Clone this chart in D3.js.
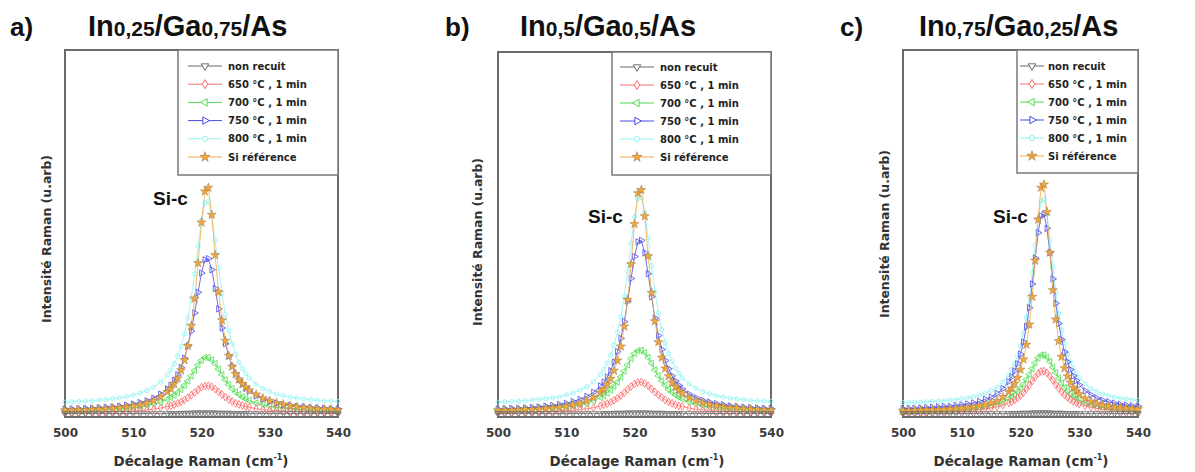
<!DOCTYPE html>
<html><head><meta charset="utf-8">
<script src="https://cdn.jsdelivr.net/npm/d3@7"></script>
<style>body{margin:0;background:#fff}svg{display:block}</style>
</head><body>
<svg id="chart" width="1195" height="472"></svg>
<script>
// ---------- DATA ----------
const seriesNames = ["non recuit", "650 °C , 1 min", "700 °C , 1 min", "750 °C , 1 min", "800 °C , 1 min", "Si référence"];
const xTicks = [500, 510, 520, 530, 540];
const panelLetters = ["a)", "b)", "c)"];
const panelTitles = [
  [["In", 0], ["0,25", 1], ["/Ga", 0], ["0,75", 1], ["/As", 0]],
  [["In", 0], ["0,5", 1], ["/Ga", 0], ["0,5", 1], ["/As", 0]],
  [["In", 0], ["0,75", 1], ["/Ga", 0], ["0,25", 1], ["/As", 0]]
];
const peakLabel = "Si-c";

const xAB = [500,501,502,503,504,505,506,507,508,509,510,511,512,513,514,515,
  515.5,516,516.5,517,517.5,518,518.5,519,519.5,520,520.5,521,521.5,522,522.5,523,523.5,524,524.5,525,525.5,526,526.5,527,
  528,529,530,531,532,533,534,535,536,537,538,539,540];
const xC = [500,501,502,503,504,505,506,507,508,509,510,511,512,513,514,515,516,517,518,
  518.5,519,519.5,520,520.5,521,521.5,522,522.5,523,523.5,524,524.5,525,525.5,526,526.5,527,527.5,528,528.5,529,529.5,530,
  531,532,533,534,535,536,537,538,539,540];

// panel a
const a_nr = [0.004,0.004,0.004,0.004,0.004,0.004,0.004,0.004,0.004,0.004,0.004,0.004,0.004,0.004,0.004,0.004,
  0.004,0.004,0.004,0.005,0.005,0.005,0.005,0.006,0.006,0.006,0.006,0.006,0.006,0.006,0.005,0.005,0.005,0.005,0.004,0.004,0.004,0.004,0.004,0.004,
  0.004,0.004,0.004,0.004,0.004,0.004,0.004,0.004,0.004,0.004,0.004,0.004,0.004];
const a_650 = [0.007,0.007,0.007,0.007,0.008,0.008,0.008,0.009,0.009,0.010,0.011,0.012,0.014,0.016,0.019,0.023,
  0.025,0.028,0.032,0.036,0.041,0.047,0.054,0.062,0.069,0.076,0.079,0.080,0.077,0.071,0.063,0.056,0.049,0.042,0.037,0.032,0.029,0.026,0.023,0.021,
  0.017,0.015,0.013,0.012,0.011,0.010,0.009,0.009,0.008,0.008,0.008,0.007,0.007];
const a_700 = [0.012,0.012,0.012,0.013,0.013,0.014,0.015,0.016,0.017,0.018,0.020,0.022,0.026,0.030,0.035,0.043,
  0.048,0.054,0.061,0.070,0.081,0.093,0.107,0.122,0.137,0.149,0.157,0.157,0.151,0.140,0.125,0.110,0.096,0.083,0.072,0.063,0.056,0.049,0.044,0.040,
  0.033,0.028,0.024,0.021,0.019,0.018,0.016,0.015,0.014,0.014,0.013,0.013,0.012];
const a_750 = [0.016,0.016,0.017,0.018,0.018,0.020,0.021,0.022,0.024,0.027,0.030,0.034,0.039,0.046,0.057,0.071,
  0.081,0.094,0.110,0.130,0.155,0.188,0.229,0.279,0.335,0.388,0.424,0.427,0.397,0.346,0.290,0.238,0.195,0.161,0.134,0.113,0.097,0.084,0.073,0.065,
  0.052,0.043,0.037,0.032,0.028,0.026,0.023,0.022,0.020,0.019,0.018,0.017,0.016];
const a_800 = [0.035,0.036,0.037,0.038,0.039,0.041,0.042,0.045,0.047,0.050,0.054,0.060,0.067,0.076,0.090,0.110,
  0.123,0.140,0.161,0.188,0.222,0.265,0.320,0.386,0.461,0.532,0.580,0.584,0.544,0.476,0.401,0.332,0.275,0.230,0.194,0.166,0.144,0.127,0.113,0.101,
  0.084,0.072,0.064,0.057,0.053,0.049,0.046,0.044,0.042,0.040,0.039,0.038,0.037];
const a_si = [0.013,0.013,0.014,0.014,0.015,0.016,0.017,0.018,0.020,0.022,0.025,0.028,0.033,0.039,0.049,0.063,
  0.072,0.085,0.100,0.122,0.150,0.189,0.244,0.318,0.415,0.526,0.611,0.621,0.547,0.437,0.336,0.259,0.203,0.162,0.132,0.112,0.097,0.085,0.076,0.068,
  0.056,0.046,0.039,0.033,0.029,0.025,0.022,0.020,0.018,0.017,0.016,0.015,0.014];

// panel b
const b_nr = [0.004,0.004,0.004,0.004,0.004,0.004,0.004,0.004,0.004,0.004,0.004,0.004,0.004,0.004,0.004,0.004,
  0.004,0.004,0.004,0.005,0.005,0.005,0.005,0.006,0.006,0.006,0.006,0.006,0.006,0.006,0.005,0.005,0.005,0.005,0.004,0.004,0.004,0.004,0.004,0.004,
  0.004,0.004,0.004,0.004,0.004,0.004,0.004,0.004,0.004,0.004,0.004,0.004,0.004];
const b_650 = [0.007,0.007,0.007,0.008,0.008,0.008,0.009,0.009,0.010,0.011,0.012,0.013,0.015,0.017,0.020,0.025,
  0.028,0.031,0.035,0.040,0.046,0.053,0.061,0.070,0.078,0.085,0.089,0.090,0.086,0.080,0.071,0.063,0.055,0.048,0.041,0.036,0.032,0.028,0.025,0.023,
  0.019,0.016,0.014,0.013,0.011,0.010,0.010,0.009,0.009,0.008,0.008,0.008,0.007];
const b_700 = [0.012,0.012,0.013,0.013,0.014,0.015,0.016,0.017,0.018,0.020,0.022,0.024,0.028,0.032,0.039,0.048,
  0.053,0.060,0.069,0.079,0.090,0.104,0.120,0.137,0.154,0.168,0.176,0.177,0.170,0.157,0.141,0.123,0.107,0.093,0.081,0.070,0.062,0.055,0.049,0.044,
  0.036,0.030,0.026,0.023,0.021,0.019,0.017,0.016,0.015,0.014,0.014,0.013,0.013];
const b_750 = [0.016,0.017,0.018,0.018,0.019,0.021,0.022,0.024,0.026,0.029,0.032,0.037,0.043,0.051,0.062,0.079,
  0.090,0.104,0.121,0.144,0.173,0.209,0.255,0.311,0.373,0.433,0.473,0.477,0.443,0.386,0.323,0.265,0.217,0.179,0.149,0.126,0.107,0.093,0.081,0.071,
  0.057,0.047,0.040,0.035,0.031,0.028,0.025,0.023,0.021,0.020,0.019,0.018,0.017];
const b_800 = [0.035,0.036,0.037,0.038,0.039,0.041,0.043,0.045,0.047,0.050,0.055,0.060,0.068,0.077,0.091,0.111,
  0.125,0.142,0.164,0.191,0.225,0.269,0.325,0.392,0.469,0.541,0.590,0.594,0.553,0.484,0.408,0.337,0.279,0.233,0.197,0.168,0.146,0.128,0.114,0.102,
  0.085,0.073,0.064,0.058,0.053,0.049,0.046,0.044,0.042,0.040,0.039,0.038,0.037];
const b_si = [0.013,0.013,0.013,0.014,0.015,0.015,0.016,0.018,0.019,0.021,0.024,0.028,0.032,0.039,0.048,0.062,
  0.071,0.084,0.099,0.121,0.149,0.187,0.242,0.315,0.412,0.522,0.606,0.615,0.543,0.434,0.334,0.256,0.199,0.157,0.127,0.106,0.089,0.077,0.067,0.059,
  0.047,0.039,0.033,0.029,0.025,0.022,0.020,0.019,0.017,0.016,0.015,0.014,0.013];

// panel c
const c_nr = [0.004,0.004,0.004,0.004,0.004,0.004,0.004,0.004,0.004,0.004,0.004,0.004,0.004,0.004,0.004,0.004,0.004,0.004,0.004,
  0.004,0.004,0.004,0.005,0.005,0.005,0.005,0.006,0.006,0.006,0.006,0.006,0.006,0.006,0.005,0.005,0.005,0.005,0.004,0.004,0.004,0.004,0.004,0.004,
  0.004,0.004,0.004,0.004,0.004,0.004,0.004,0.004,0.004,0.004];
const c_650 = [0.008,0.008,0.008,0.009,0.009,0.009,0.010,0.010,0.011,0.011,0.012,0.013,0.014,0.015,0.017,0.019,0.022,0.027,0.033,
  0.036,0.041,0.047,0.053,0.061,0.071,0.081,0.093,0.104,0.113,0.119,0.120,0.115,0.106,0.095,0.083,0.073,0.063,0.055,0.048,0.042,0.037,0.033,0.030,
  0.025,0.021,0.018,0.016,0.015,0.013,0.012,0.012,0.011,0.010];
const c_700 = [0.011,0.011,0.011,0.012,0.012,0.012,0.013,0.013,0.014,0.015,0.016,0.017,0.018,0.020,0.022,0.026,0.030,0.035,0.044,
  0.050,0.056,0.064,0.073,0.084,0.097,0.111,0.127,0.143,0.156,0.164,0.164,0.158,0.146,0.130,0.115,0.100,0.087,0.075,0.066,0.058,0.051,0.046,0.041,
  0.033,0.028,0.024,0.021,0.019,0.018,0.016,0.015,0.014,0.014];
const c_750 = [0.017,0.018,0.018,0.019,0.020,0.021,0.022,0.023,0.024,0.026,0.028,0.030,0.033,0.037,0.043,0.049,0.059,0.072,0.091,
  0.104,0.120,0.140,0.166,0.199,0.241,0.293,0.358,0.429,0.498,0.544,0.548,0.510,0.444,0.372,0.305,0.250,0.206,0.172,0.145,0.124,0.107,0.094,0.082,
  0.066,0.055,0.046,0.040,0.036,0.032,0.029,0.027,0.025,0.024];
const c_800 = [0.034,0.034,0.035,0.035,0.036,0.037,0.038,0.039,0.041,0.042,0.045,0.047,0.050,0.054,0.060,0.067,0.076,0.090,0.110,
  0.124,0.141,0.162,0.189,0.224,0.267,0.323,0.389,0.465,0.537,0.585,0.589,0.549,0.480,0.404,0.335,0.277,0.232,0.195,0.167,0.145,0.128,0.114,0.102,
  0.085,0.072,0.064,0.057,0.053,0.049,0.046,0.044,0.042,0.040];
const c_si = [0.012,0.012,0.012,0.013,0.013,0.014,0.014,0.015,0.016,0.017,0.018,0.020,0.022,0.025,0.028,0.033,0.039,0.049,0.063,
  0.073,0.086,0.102,0.124,0.152,0.192,0.247,0.323,0.422,0.534,0.621,0.630,0.555,0.444,0.341,0.261,0.202,0.159,0.128,0.106,0.089,0.075,0.065,0.057,
  0.045,0.037,0.031,0.027,0.024,0.021,0.020,0.018,0.017,0.016];

// ---------- LAYOUT & STYLE ----------
const layout = [
  {x: xAB, series: [a_nr,a_650,a_700,a_750,a_800,a_si], frame:[65,50,338,417],
   leg:{box:[178,50,338,175], l0:188, l1:222, tx:228, y0:66, dy:18.2},
   letterX:10, titleX:88, ylab:[47,239], sic:[153,205], xtitle:201},
  {x: xAB, series: [b_nr,b_650,b_700,b_750,b_800,b_si], frame:[498,52,771,417],
   leg:{box:[612,52,771,175], l0:620, l1:654, tx:660, y0:67, dy:18},
   letterX:445, titleX:520, ylab:[478,242], sic:[588,223], xtitle:637},
  {x: xC, series: [c_nr,c_650,c_700,c_750,c_800,c_si], frame:[903,50,1138,417],
   leg:{box:[1017,50,1138,173], l0:1020, l1:1044, tx:1048, y0:66, dy:18},
   letterX:840, titleX:919, ylab:[885,234], sic:[993,223], xtitle:1021}
];
const styles = [
  {color:"#6a6a6a", sym:d3.symbolTriangle, rot:180, fill:"none", size:18},
  {color:"#ff6b6b", sym:d3.symbolDiamond, rot:0, fill:"none", size:18},
  {color:"#4ddc4d", sym:d3.symbolTriangle, rot:-90, fill:"none", size:18},
  {color:"#4a4ae8", sym:d3.symbolTriangle, rot:90, fill:"none", size:18},
  {color:"#8ef3f3", sym:d3.symbolCircle, rot:0, fill:"none", size:14},
  {color:"#f2aa40", sym:d3.symbolStar, rot:0, fill:"#f3a83a", size:26, stroke:"#9a7a50"}
];
const drawOrder = [4,2,1,3,5,0];
const ARIAL = "'Liberation Sans', Arial, sans-serif";
const DEJAVU = "'DejaVu Sans', sans-serif";

const svg = d3.select("#chart");

layout.forEach((p, pi) => {
  const [fx0, fy0, fx1, fy1] = p.frame;
  const x = d3.scaleLinear().domain([500, 540]).range([fx0, fx1]);
  const y = d3.scaleLinear().domain([0, 1]).range([415, 49]);
  const g = svg.append("g");

  // letter + title
  g.append("text").attr("x", p.letterX).attr("y", 36)
    .attr("font-family", ARIAL).attr("font-weight", "bold").attr("font-size", 26)
    .attr("fill", "#111").text(panelLetters[pi]);
  const t = g.append("text").attr("x", p.titleX).attr("y", 36)
    .attr("font-family", ARIAL).attr("font-weight", "bold").attr("fill", "#111");
  panelTitles[pi].forEach(([s, sub]) => {
    t.append("tspan").attr("font-size", sub ? 21 : 29).text(s);
  });

  // frame
  g.append("rect").attr("x", fx0).attr("y", fy0).attr("width", fx1 - fx0).attr("height", fy1 - fy0)
    .attr("fill", "none").attr("stroke", "#6a6a6a").attr("stroke-width", 2);

  // series
  drawOrder.forEach(si => {
    const st = styles[si];
    const pts = p.series[si].map((v, i) => [p.x[i], v]);
    g.append("path").datum(pts)
      .attr("fill", "none").attr("stroke", st.color).attr("stroke-width", 0.8)
      .attr("d", d3.line().x(d => x(d[0])).y(d => y(d[1])));
    g.selectAll(null).data(pts).join("path")
      .attr("transform", d => `translate(${x(d[0])},${y(d[1])}) rotate(${st.rot})`)
      .attr("d", d3.symbol(st.sym, st.size))
      .attr("fill", st.fill).attr("stroke", st.stroke || st.color).attr("stroke-width", st.stroke ? 0.5 : 0.8);
  });

  // x axis tick labels
  const ax = g.append("g").attr("transform", `translate(0,${fy1})`)
    .call(d3.axisBottom(x).tickValues(xTicks).tickSize(0).tickPadding(11).tickFormat(d3.format("d")));
  ax.select(".domain").remove();
  ax.selectAll("text").attr("font-family", DEJAVU).attr("font-weight", "bold")
    .attr("font-size", 12).attr("fill", "#3a3a3a");

  // x title
  const xt = g.append("text").attr("x", p.xtitle).attr("y", 466).attr("text-anchor", "middle")
    .attr("font-family", DEJAVU).attr("font-weight", "bold").attr("font-size", 13.5).attr("fill", "#333");
  xt.append("tspan").text("Décalage Raman (cm");
  xt.append("tspan").attr("font-size", 8).attr("dy", -6).text("-1");
  xt.append("tspan").attr("dy", 6).text(")");

  // y title
  g.append("text").attr("transform", `translate(${p.ylab[0] + 4},${p.ylab[1]}) rotate(-90)`)
    .attr("text-anchor", "middle").attr("font-family", DEJAVU).attr("font-weight", "bold")
    .attr("font-size", 12).attr("fill", "#333")
    .attr("textLength", 168).attr("lengthAdjust", "spacingAndGlyphs")
    .text("Intensité Raman (u.arb)");

  // Si-c label
  g.append("text").attr("x", p.sic[0]).attr("y", p.sic[1])
    .attr("font-family", ARIAL).attr("font-weight", "bold").attr("font-size", 19)
    .attr("fill", "#111").text(peakLabel);

  // legend
  const L = p.leg;
  g.append("rect").attr("x", L.box[0]).attr("y", L.box[1])
    .attr("width", L.box[2] - L.box[0]).attr("height", L.box[3] - L.box[1])
    .attr("fill", "#fff").attr("stroke", "#7a7a7a").attr("stroke-width", 1.5);
  seriesNames.forEach((name, i) => {
    const st = styles[i];
    const ry = L.y0 + i * L.dy;
    g.append("line").attr("x1", L.l0).attr("x2", L.l1).attr("y1", ry).attr("y2", ry)
      .attr("stroke", st.color).attr("stroke-width", 1);
    g.append("path").attr("transform", `translate(${(L.l0 + L.l1) / 2},${ry}) rotate(${st.rot})`)
      .attr("d", d3.symbol(st.sym, st.size + 6))
      .attr("fill", st.fill === "none" ? "#fff" : st.fill)
      .attr("stroke", st.stroke || st.color).attr("stroke-width", st.stroke ? 0.6 : 1);
    g.append("text").attr("x", L.tx).attr("y", ry + 3.5)
      .attr("font-family", DEJAVU).attr("font-weight", "bold").attr("font-size", 10)
      .attr("fill", "#222").text(name);
  });
});
</script>
</body></html>
